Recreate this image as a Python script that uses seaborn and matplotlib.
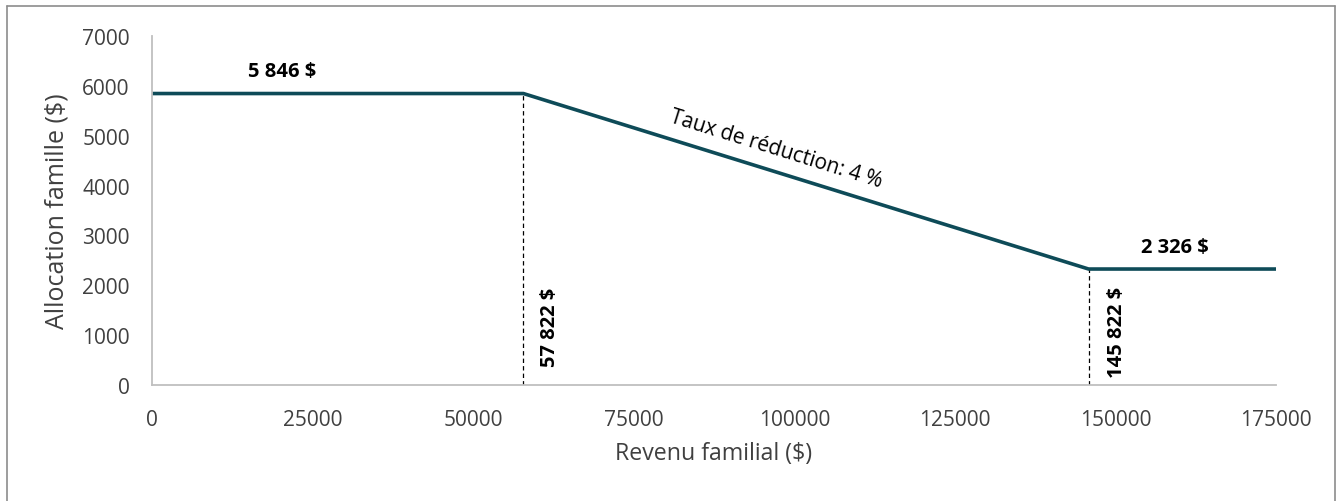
import matplotlib
matplotlib.use('Agg')
import matplotlib.pyplot as plt
import pandas as pd
import seaborn as sns
from matplotlib.lines import Line2D

# data
revenu = [0, 57822, 145822, 175000]
allocation = [5846, 5846, 2326, 2326]
seuils = [57822, 145822]
seuil_labels = ['57 822 $', '145 822 $']
x_ticks = [0, 25000, 50000, 75000, 100000, 125000, 150000, 175000]
y_ticks = [0, 1000, 2000, 3000, 4000, 5000, 6000, 7000]

df = pd.DataFrame({'Revenu': revenu, 'Allocation': allocation})

sns.set_style('white')
plt.rcParams['font.family'] = ['Open Sans', 'DejaVu Sans']

W, H = 1343, 502
fig = plt.figure(figsize=(W / 100, H / 100), dpi=100)
ax = fig.add_axes([0.1132, 0.2311, 0.8369, 0.6952])

line_color = '#0e4b58'
sns.lineplot(data=df, x='Revenu', y='Allocation', sort=False, ax=ax,
             color=line_color, linewidth=2.6, solid_capstyle='round')

# dashed thresholds
for s in seuils:
    y_top = df.loc[df['Revenu'] == s, 'Allocation'].iloc[0]
    ax.plot([s, s], [0, y_top], color='black', linestyle=(0, (3.5, 2.5)),
            linewidth=0.9, zorder=1)

ax.text(61900, 380, seuil_labels[0], rotation=90, ha='center', va='bottom',
        fontsize=14.5, fontweight='bold', color='black')
ax.text(150200, 160, seuil_labels[1], rotation=90, ha='center', va='bottom',
        fontsize=14.5, fontweight='bold', color='black')
ax.text(20240, 6300, '5 846 $', ha='center', va='center', fontsize=14.5,
        fontweight='bold', color='black')
ax.text(159300, 2770, '2 326 $', ha='center', va='center', fontsize=14.5,
        fontweight='bold', color='black')
ax.text(97150, 4733, 'Taux de réduction: 4 %', ha='center', va='center',
        rotation=-17.3, fontsize=15, rotation_mode='anchor', color='black')

ax.set_xlim(0, 175000)
ax.set_ylim(0, 7000)
ax.set_xticks(x_ticks)
ax.set_yticks(y_ticks)
ax.tick_params(axis='both', labelsize=15, labelcolor='#404040', length=0)
ax.tick_params(axis='x', pad=17)
ax.tick_params(axis='y', pad=16)
ax.set_xlabel('Revenu familial ($)', fontsize=16.7, color='#404040', labelpad=8)
ax.set_ylabel('')
fig.text(57 / W, 1 - 211 / H, 'Allocation famille ($)', rotation=90,
         ha='center', va='center', fontsize=18, color='#404040')

for s in ['top', 'right']:
    ax.spines[s].set_visible(False)
for s in ['left', 'bottom']:
    ax.spines[s].set_color('#bfbfbf')
    ax.spines[s].set_linewidth(1.3)

# outer frame
frame = dict(color='#8c8c8c', linewidth=1.2, transform=fig.transFigure)
fig.add_artist(Line2D([7 / W, 7 / W], [0, 1 - 7 / H], **frame))
fig.add_artist(Line2D([7 / W, 1335 / W], [1 - 7 / H, 1 - 7 / H], **frame))
fig.add_artist(Line2D([1335 / W, 1335 / W], [0, 1 - 7 / H], **frame))

fig.savefig('out.png', dpi=100)
plt.close()
